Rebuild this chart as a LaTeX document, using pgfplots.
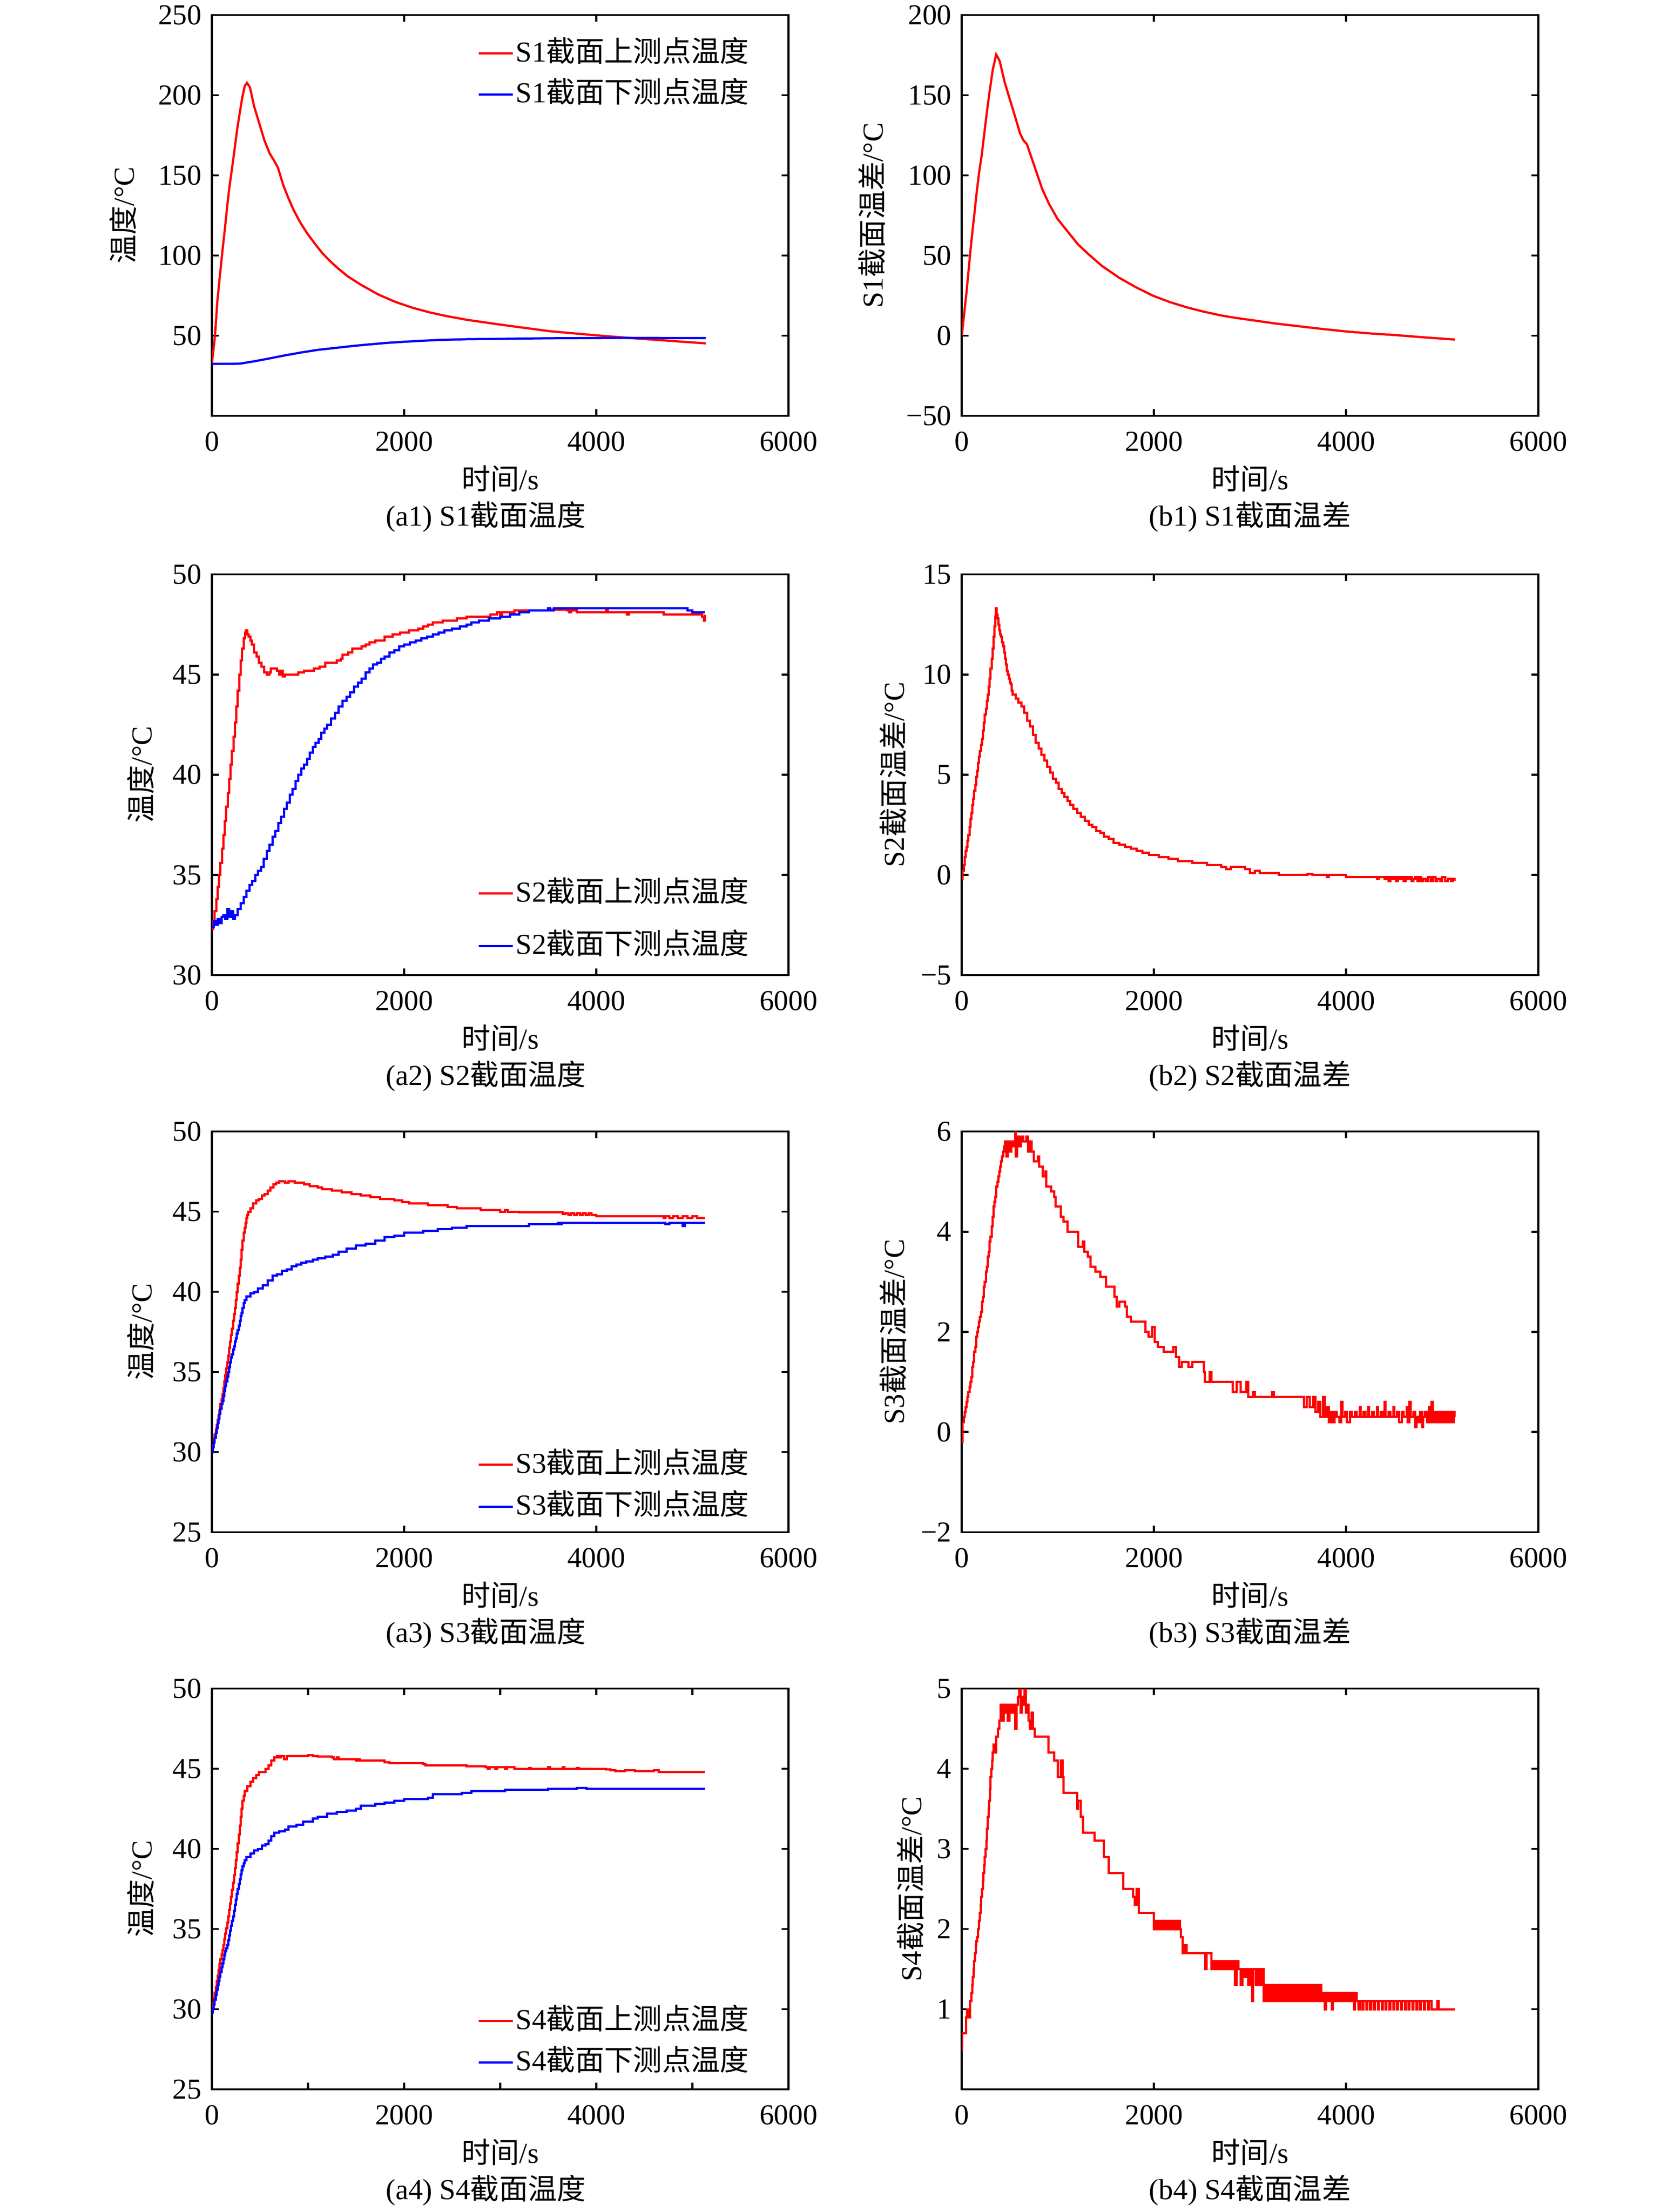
\documentclass[border=0pt]{standalone}
\usepackage{fontspec}
\setmainfont{Liberation Serif}
\newfontfamily\cj{Noto Sans CJK SC}
\usepackage{pgfplots}
\pgfplotsset{compat=1.18}
\definecolor{myred}{RGB}{255,0,0}
\definecolor{myblue}{RGB}{0,0,255}
\pgfplotsset{
  base/.style={
    scale only axis, width=195.3pt, height=135.75pt, anchor=north west,
    xmin=0, xmax=6000, xtick={0,2000,4000,6000}, xticklabels={0,2000,4000,6000},
    tick align=inside, major tick length=2.3pt, minor tick length=2.3pt,
    axis line style={line width=0.7pt}, tick style={line width=0.7pt, black},
    xticklabel style={yshift=-1.9pt},
    xlabel={{\cj 时间}/s},
    xlabel style={at={(axis description cs:0.5,-0.1569)}, anchor=center},
    legend cell align=left,
    legend image code/.code={\draw[##1] (0pt,0pt) -- (11.6pt,0pt);},
    every axis plot/.append style={line width=0.75pt},
  },
  ylab/.style={ylabel style={at={(axis description cs:#1,0.5)}, anchor=center}},
  leg/.style n args={3}{legend style={draw=none, fill=none, at={(axis description cs:1,#1)}, anchor=#2, xshift=-12.6pt, yshift=#3, inner sep=0pt, nodes={inner sep=0.6pt, text height=7.5pt, text depth=2pt}}},
}
\begin{document}
\fontsize{9.8pt}{11.8pt}\selectfont
\begin{tikzpicture}
\useasboundingbox (0,0) rectangle (567pt,-749.25pt);
% ---------------- a1
\begin{axis}[base, name=a1, at={(71.76pt,-5.1pt)}, ymin=0, ymax=250,
  ytick={50,100,150,200,250}, yticklabels={50,100,150,200,250},
  ylabel={{\cj 温度}/°C}, ylab=-0.1546, leg={1}{north east}{-7.5pt},
  legend style={row sep=3.1pt}]
\addplot[myred] coordinates {(0,32.4) (32,49.7) (58,72) (85,88.2) (112,104) (138,118) (160,131) (183,143) (209,154) (236,166) (263,178.5) (289,188.5) (316,198.4) (342,205.7) (365,207.7) (396,205) (440,193) (493,182.5) (547,171.8) (600,163.9) (653,158.6) (689,154.6) (742,144) (795,136) (848,128.7) (919,120.7) (990,114) (1079,106.8) (1150,101.5) (1230,96.5) (1309,92.2) (1416,86.9) (1558,81.5) (1735,75.6) (1913,71.0) (2090,67.4) (2268,64.5) (2445,62.2) (2654,59.9) (2965,57.2) (3250,54.9) (3515,52.8) (4000,50.2) (4365,48.5) (4715,47) (5140,45.2)};
\addlegendentry{S1{\cj 截面上测点温度}}
\addplot[myblue] coordinates {(0,32.4) (150,32.4) (298,32.6) (440,34.0) (582,35.6) (760,37.7) (937,39.6) (1110,41.2) (1292,42.4) (1470,43.6) (1647,44.6) (1820,45.5) (2002,46.2) (2180,46.8) (2356,47.3) (2654,47.8) (2965,48.0) (3515,48.4) (4215,48.6) (5140,48.5)};
\addlegendentry{S1{\cj 截面下测点温度}}
\end{axis}
\node at ([xshift=-4.8pt,yshift=-34.2pt]a1.south) {(a1) S1{\cj 截面温度}};
% ---------------- b1
\begin{axis}[base, name=b1, at={(325.76pt,-5.1pt)}, ymin=-50, ymax=200,
  ytick={-50,0,50,100,150,200}, yticklabels={−50,0,50,100,150,200},
  ylabel={S1{\cj 截面温差}/°C}, ylab=-0.1562]
\addplot[myred] coordinates {(0,0) (21,11.6) (48,26.2) (75,43.5) (101,59.5) (128,74.2) (154,88.8) (181,102.1) (208,112.8) (234,126) (261,139.3) (287,151.3) (323,166) (358,175.4) (394,171.4) (447,158) (500,147.4) (554,136.8) (607,126.1) (640,122) (678,119.4) (731,110.1) (784,100.8) (837,91.5) (908,82.2) (997,72.8) (1104,64.8) (1210,56.9) (1317,50.9) (1459,43.5) (1636,36.2) (1813,30.2) (1991,24.9) (2168,20.9) (2346,17.6) (2523,14.9) (2700,12.6) (2850,11.1) (3005,9.8) (3250,7.7) (3505,5.9) (3750,4.2) (4005,2.6) (4250,1.4) (4505,0.4) (4800,-1.0) (5130,-2.4)};
\end{axis}
\node at ([yshift=-34.2pt]b1.south) {(b1) S1{\cj 截面温差}};
% ---------------- a2
\begin{axis}[base, name=a2, at={(71.76pt,-194.55pt)}, ymin=30, ymax=50,
  ytick={30,35,40,45,50}, yticklabels={30,35,40,45,50},
  ylabel={{\cj 温度}/°C}, ylab=-0.1239, leg={0}{south east}{4.3pt},
  legend style={row sep=7.1pt}]
\addplot[myred, const plot] coordinates {(0,32.3) (15,32.7) (30,33.2) (45,33.8) (60,34.4) (75,35.0) (90,35.6) (105,36.3) (120,37.0) (135,37.7) (150,38.4) (165,39.1) (180,39.8) (195,40.5) (210,41.2) (225,41.9) (240,42.6) (255,43.4) (270,44.2) (285,45.0) (300,45.7) (315,46.3) (330,46.8) (345,47.1) (355,47.2) (370,47.0) (385,46.9) (400,46.7) (415,46.5) (440,46.1) (465,45.9) (490,45.6) (515,45.4) (545,45.1) (570,45.0) (600,45.1) (615,45.3) (680,45.2) (700,45.0) (720,45.2) (740,44.9) (760,45.0) (900,45.1) (960,45.2) (1060,45.3) (1120,45.4) (1180,45.6) (1300,45.7) (1340,45.8) (1360,46.0) (1420,46.1) (1460,46.3) (1560,46.4) (1600,46.5) (1640,46.6) (1700,46.7) (1800,46.9) (1880,47.0) (1960,47.1) (2050,47.2) (2150,47.3) (2200,47.4) (2250,47.5) (2300,47.6) (2400,47.7) (2550,47.8) (2650,47.9) (2900,48.0) (2970,48.1) (3000,48.0) (3020,48.1) (3150,48.2) (3500,48.25) (3700,48.2) (3720,48.1) (3740,48.2) (3800,48.1) (4100,48.2) (4120,48.1) (4300,48.1) (4320,48.0) (4340,48.1) (4700,48.0) (5100,47.9) (5120,47.7) (5130,48.0)};
\addlegendentry{S2{\cj 截面上测点温度}}
\addplot[myblue, const plot] coordinates {(0,32.4) (20,32.7) (40,32.5) (60,32.8) (80,32.6) (100,32.9) (120,33.0) (140,32.8) (160,33.3) (180,32.9) (200,33.2) (220,32.8) (240,33.0) (270,33.3) (300,33.6) (330,33.9) (360,34.2) (390,34.5) (420,34.7) (450,35.0) (480,35.2) (510,35.4) (540,35.8) (570,36.2) (600,36.5) (630,36.9) (660,37.2) (690,37.6) (720,37.9) (750,38.3) (780,38.6) (810,39.0) (840,39.3) (870,39.7) (900,40.0) (930,40.3) (960,40.5) (990,40.8) (1020,41.1) (1050,41.4) (1080,41.6) (1110,41.8) (1140,42.1) (1170,42.3) (1200,42.5) (1240,42.8) (1280,43.1) (1320,43.4) (1360,43.7) (1400,43.9) (1440,44.1) (1480,44.4) (1520,44.6) (1560,44.8) (1600,45.1) (1640,45.3) (1680,45.5) (1720,45.6) (1760,45.8) (1800,45.9) (1850,46.1) (1900,46.2) (1950,46.4) (2000,46.5) (2060,46.6) (2120,46.7) (2180,46.8) (2240,46.9) (2300,47.0) (2360,47.1) (2420,47.2) (2500,47.3) (2580,47.4) (2650,47.5) (2700,47.6) (2780,47.7) (2880,47.8) (3000,47.9) (3100,48.0) (3200,48.1) (3300,48.2) (3500,48.3) (3520,48.2) (3560,48.3) (4900,48.3) (4950,48.2) (5000,48.1) (5130,48.1)};
\addlegendentry{S2{\cj 截面下测点温度}}
\end{axis}
\node at ([xshift=-4.8pt,yshift=-34.2pt]a2.south) {(a2) S2{\cj 截面温度}};
% ---------------- b2
\begin{axis}[base, name=b2, at={(325.76pt,-194.55pt)}, ymin=-5, ymax=15,
  ytick={-5,0,5,10,15}, yticklabels={−5,0,5,10,15},
  ylabel={S2{\cj 截面温差}/°C}, ylab=-0.1193]
\addplot[myred, const plot] coordinates {(0,-0.2) (10,0.2) (20,0.5) (30,0.9) (40,1.2) (50,1.4) (60,1.7) (70,2.0) (80,2.4) (90,2.8) (100,3.1) (110,3.5) (120,3.8) (130,4.2) (140,4.5) (150,4.9) (160,5.2) (170,5.6) (180,5.9) (190,6.2) (200,6.5) (210,6.8) (220,7.2) (230,7.6) (240,8.0) (250,8.3) (260,8.7) (270,9.0) (280,9.4) (290,9.8) (300,10.3) (310,10.8) (320,11.3) (330,11.9) (340,12.4) (348,12.9) (355,13.3) (362,13.0) (370,12.8) (380,12.5) (390,12.2) (400,12.0) (410,11.9) (420,11.6) (430,11.4) (440,11.1) (450,10.8) (460,10.5) (470,10.2) (480,10.0) (490,9.8) (500,9.6) (510,9.5) (520,9.2) (530,9.0) (560,8.8) (590,8.6) (620,8.4) (650,8.1) (680,7.7) (710,7.4) (740,7.0) (770,6.6) (800,6.3) (830,6.0) (860,5.7) (890,5.4) (920,5.1) (950,4.8) (980,4.6) (1010,4.3) (1040,4.1) (1070,3.9) (1100,3.7) (1130,3.5) (1160,3.3) (1200,3.1) (1240,2.9) (1280,2.7) (1320,2.5) (1360,2.4) (1400,2.2) (1440,2.1) (1480,1.9) (1530,1.8) (1580,1.6) (1640,1.5) (1700,1.4) (1760,1.3) (1820,1.2) (1880,1.1) (1950,1.0) (2050,0.9) (2150,0.8) (2250,0.7) (2400,0.6) (2550,0.5) (2700,0.4) (2750,0.3) (2800,0.4) (2950,0.3) (3000,0.1) (3050,0.2) (3100,0.1) (3300,0.0) (3600,0.05) (3650,0.0) (3800,-0.1) (3820,0.0) (4000,-0.1) (4320,-0.2) (4340,-0.1) (4400,-0.2) (4420,-0.1) (4440,-0.3) (4460,-0.1) (4480,-0.2) (4500,-0.1) (4520,-0.3) (4540,-0.1) (4560,-0.2) (4580,-0.1) (4600,-0.3) (4620,-0.1) (4640,-0.2) (4660,-0.1) (4680,-0.3) (4700,-0.2) (4720,-0.1) (4740,-0.3) (4760,-0.1) (4780,-0.3) (4800,-0.2) (4830,-0.3) (4850,-0.1) (4880,-0.3) (4900,-0.1) (4930,-0.3) (4950,-0.2) (4980,-0.3) (5000,-0.1) (5030,-0.3) (5060,-0.2) (5090,-0.3) (5110,-0.2) (5130,-0.3)};
\end{axis}
\node at ([yshift=-34.2pt]b2.south) {(b2) S2{\cj 截面温差}};
% ---------------- a3
\begin{axis}[base, name=a3, at={(71.76pt,-383.25pt)}, ymin=25, ymax=50,
  ytick={25,30,35,40,45,50}, yticklabels={25,30,35,40,45,50},
  ylabel={{\cj 温度}/°C}, ylab=-0.1239, leg={0}{south east}{3.1pt},
  legend style={row sep=3.5pt}]
\addplot[myred, const plot] coordinates {(0,30.0) (10,30.4) (20,30.8) (30,31.1) (40,31.4) (50,31.7) (60,32.0) (70,32.3) (80,32.6) (90,33.0) (100,33.3) (110,33.6) (120,34.0) (130,34.4) (140,34.8) (150,35.2) (160,35.6) (170,36.0) (180,36.5) (190,36.9) (200,37.3) (210,37.7) (220,38.2) (230,38.6) (240,39.0) (250,39.5) (260,40.0) (270,40.5) (280,41.0) (290,41.5) (300,42.0) (310,42.6) (320,43.2) (330,43.7) (340,44.0) (350,44.3) (360,44.6) (370,44.8) (380,45.0) (400,45.2) (430,45.5) (460,45.7) (490,45.8) (520,46.0) (550,46.1) (580,46.3) (610,46.5) (640,46.7) (670,46.8) (700,46.9) (760,46.8) (800,46.9) (860,46.8) (960,46.7) (1020,46.6) (1100,46.5) (1150,46.4) (1250,46.3) (1350,46.2) (1450,46.1) (1550,46.0) (1650,45.9) (1750,45.8) (1900,45.7) (1980,45.6) (2050,45.5) (2250,45.4) (2450,45.3) (2550,45.2) (2800,45.1) (3000,45.0) (3050,45.1) (3080,45.0) (3200,44.95) (3650,44.85) (3680,44.9) (3710,44.8) (3740,44.9) (3770,44.8) (3800,44.9) (3830,44.8) (3860,44.9) (3890,44.8) (3920,44.9) (3950,44.8) (3980,44.8) (4000,44.7) (4700,44.6) (4720,44.7) (4760,44.6) (4800,44.7) (4850,44.6) (4900,44.7) (4950,44.6) (5000,44.7) (5050,44.6) (5130,44.6)};
\addlegendentry{S3{\cj 截面上测点温度}}
\addplot[myblue, const plot] coordinates {(0,30.0) (10,30.3) (20,30.6) (30,30.9) (40,31.2) (50,31.5) (60,31.8) (70,32.1) (80,32.4) (90,32.7) (100,33.0) (110,33.2) (120,33.5) (130,33.8) (140,34.1) (150,34.4) (160,34.7) (170,35.0) (180,35.3) (190,35.6) (200,35.9) (210,36.1) (220,36.4) (230,36.6) (240,36.9) (250,37.1) (260,37.4) (270,37.6) (280,37.9) (290,38.2) (300,38.5) (310,38.7) (320,39.0) (330,39.3) (340,39.5) (360,39.7) (400,39.9) (440,40.0) (480,40.2) (530,40.4) (580,40.7) (630,41.0) (680,41.1) (730,41.3) (780,41.4) (830,41.6) (880,41.7) (930,41.8) (980,41.9) (1050,42.0) (1100,42.1) (1180,42.2) (1260,42.3) (1320,42.5) (1400,42.7) (1500,42.9) (1600,43.0) (1700,43.2) (1800,43.4) (1900,43.5) (2000,43.7) (2200,43.8) (2350,43.9) (2500,44.0) (2650,44.1) (3300,44.2) (3600,44.3) (3620,44.2) (3640,44.3) (4700,44.3) (4720,44.2) (4760,44.3) (4880,44.3) (4900,44.1) (4920,44.3) (5130,44.3)};
\addlegendentry{S3{\cj 截面下测点温度}}
\end{axis}
\node at ([xshift=-4.8pt,yshift=-34.2pt]a3.south) {(a3) S3{\cj 截面温度}};
% ---------------- b3
\begin{axis}[base, name=b3, at={(325.76pt,-383.25pt)}, ymin=-2, ymax=6,
  ytick={-2,0,2,4,6}, yticklabels={−2,0,2,4,6},
  ylabel={S3{\cj 截面温差}/°C}, ylab=-0.1193]
\addplot[myred, const plot] coordinates {(0,-0.2) (10,0.2) (20,0.3) (30,0.4) (40,0.5) (50,0.6) (60,0.7) (70,0.8) (80,0.9) (90,1.0) (100,1.1) (110,1.3) (120,1.4) (130,1.6) (140,1.7) (150,1.9) (160,2.0) (170,2.1) (180,2.2) (190,2.3) (200,2.4) (210,2.6) (220,2.7) (230,2.9) (240,3.0) (250,3.2) (260,3.3) (270,3.5) (280,3.6) (290,3.8) (300,3.9) (310,4.1) (320,4.3) (330,4.5) (340,4.6) (350,4.7) (360,4.9) (370,5.0) (380,5.1) (390,5.2) (400,5.3) (410,5.4) (420,5.5) (430,5.6) (440,5.7) (450,5.8) (465,5.5) (480,5.8) (500,5.6) (515,5.8) (535,5.7) (555,6.0) (562,5.5) (575,5.9) (600,5.7) (615,5.9) (640,5.8) (670,5.9) (690,5.6) (705,5.8) (725,5.6) (750,5.4) (790,5.5) (805,5.3) (840,5.1) (870,5.2) (880,4.9) (930,4.8) (960,4.7) (975,4.5) (1010,4.5) (1030,4.3) (1060,4.2) (1100,4.0) (1180,4.0) (1210,3.7) (1260,3.8) (1275,3.6) (1310,3.5) (1340,3.3) (1390,3.2) (1440,3.1) (1500,2.9) (1590,2.7) (1610,2.5) (1640,2.6) (1700,2.5) (1720,2.3) (1760,2.2) (1900,2.2) (1910,2.0) (1945,1.9) (1980,2.1) (2010,1.8) (2040,1.7) (2100,1.6) (2200,1.7) (2230,1.5) (2260,1.3) (2290,1.4) (2360,1.3) (2400,1.4) (2520,1.2) (2530,1.0) (2580,1.2) (2600,1.0) (2800,1.0) (2820,0.8) (2860,1.0) (2900,0.8) (2960,1.0) (2980,0.7) (3030,0.8) (3050,0.7) (3230,0.8) (3250,0.7) (3550,0.7) (3560,0.5) (3590,0.7) (3620,0.5) (3660,0.7) (3680,0.4) (3710,0.6) (3730,0.3) (3760,0.7) (3780,0.3) (3800,0.5) (3820,0.2) (3840,0.4) (3860,0.2) (3880,0.4) (3900,0.3) (3930,0.2) (3950,0.6) (3960,0.3) (3990,0.4) (4010,0.2) (4040,0.4) (4060,0.3) (4090,0.4) (4110,0.3) (4140,0.5) (4150,0.3) (4180,0.4) (4200,0.3) (4230,0.5) (4240,0.3) (4270,0.4) (4290,0.3) (4320,0.5) (4330,0.3) (4360,0.4) (4380,0.3) (4400,0.6) (4410,0.3) (4440,0.4) (4460,0.3) (4490,0.5) (4500,0.3) (4530,0.4) (4550,0.2) (4580,0.4) (4600,0.3) (4630,0.5) (4640,0.2) (4660,0.6) (4670,0.3) (4700,0.4) (4720,0.1) (4730,0.3) (4750,0.2) (4770,0.4) (4790,0.1) (4800,0.3) (4820,0.4) (4840,0.2) (4860,0.5) (4870,0.2) (4890,0.6) (4900,0.2) (4920,0.4) (4940,0.2) (4960,0.4) (4980,0.2) (5000,0.4) (5020,0.2) (5040,0.4) (5060,0.2) (5080,0.4) (5100,0.2) (5120,0.4) (5130,0.3)};
\end{axis}
\node at ([yshift=-34.2pt]b3.south) {(b3) S3{\cj 截面温差}};
% ---------------- a4
\begin{axis}[base, name=a4, at={(71.76pt,-571.95pt)}, ymin=25, ymax=50,
  ytick={25,30,35,40,45,50}, yticklabels={25,30,35,40,45,50},
  minor xtick={1000,3000,5000},
  ylabel={{\cj 温度}/°C}, ylab=-0.1239, leg={0}{south east}{3.6pt},
  legend style={row sep=3.3pt}]
\addplot[myred, const plot] coordinates {(0,30.0) (10,30.35) (20,30.7) (30,31.05) (40,31.4) (50,31.75) (60,32.1) (70,32.45) (80,32.8) (90,33.1) (100,33.4) (110,33.7) (120,34.0) (130,34.35) (140,34.7) (150,35.05) (160,35.4) (170,35.8) (180,36.2) (190,36.6) (200,37.0) (210,37.45) (220,37.9) (230,38.35) (240,38.8) (250,39.3) (260,39.8) (270,40.35) (280,40.9) (290,41.45) (300,42.0) (310,42.5) (320,43.0) (330,43.3) (340,43.6) (370,43.9) (400,44.2) (430,44.4) (460,44.6) (490,44.8) (560,45.0) (590,45.2) (620,45.5) (650,45.7) (680,45.8) (700,45.7) (720,45.8) (750,45.6) (780,45.8) (1000,45.85) (1050,45.8) (1100,45.75) (1250,45.7) (1270,45.6) (1300,45.7) (1320,45.6) (1450,45.6) (1500,45.5) (1520,45.6) (1540,45.5) (1800,45.4) (1850,45.35) (2200,45.3) (2220,45.2) (2350,45.2) (2650,45.15) (2850,45.1) (2870,45.0) (2890,45.1) (2950,45.0) (2970,45.1) (3050,45.0) (3070,45.1) (3150,45.0) (3300,45.05) (3320,45.0) (3500,45.1) (3520,45.0) (3650,45.1) (3670,45.0) (3800,45.05) (3820,45.0) (4000,45.0) (4100,44.95) (4150,44.9) (4200,44.85) (4300,44.9) (4400,44.85) (4600,44.9) (4650,44.8) (5130,44.8)};
\addlegendentry{S4{\cj 截面上测点温度}}
\addplot[myblue, const plot] coordinates {(0,29.8) (10,30.05) (20,30.3) (30,30.6) (40,30.9) (50,31.2) (60,31.5) (70,31.75) (80,32.0) (90,32.3) (100,32.6) (110,32.85) (120,33.1) (130,33.35) (140,33.6) (150,33.8) (160,34.0) (170,34.3) (180,34.6) (190,34.9) (200,35.2) (210,35.5) (220,35.8) (230,36.15) (240,36.5) (250,36.85) (260,37.2) (270,37.5) (280,37.8) (290,38.1) (300,38.4) (310,38.65) (320,38.9) (330,39.1) (340,39.3) (360,39.5) (400,39.7) (440,39.9) (480,40.0) (520,40.2) (560,40.3) (590,40.5) (620,40.8) (650,41.0) (700,41.1) (760,41.2) (800,41.4) (880,41.5) (950,41.7) (1050,41.9) (1100,42.0) (1200,42.2) (1300,42.3) (1400,42.4) (1500,42.5) (1550,42.7) (1700,42.8) (1800,42.9) (1900,43.0) (2000,43.1) (2250,43.2) (2300,43.4) (2600,43.5) (2700,43.6) (3050,43.7) (3500,43.75) (3800,43.8) (3900,43.75) (5130,43.75)};
\addlegendentry{S4{\cj 截面下测点温度}}
\end{axis}
\node at ([xshift=-4.8pt,yshift=-34.2pt]a4.south) {(a4) S4{\cj 截面温度}};
% ---------------- b4
\begin{axis}[base, name=b4, at={(325.76pt,-571.95pt)}, ymin=0, ymax=5,
  ytick={1,2,3,4,5}, yticklabels={1,2,3,4,5},
  ylabel={S4{\cj 截面温差}/°C}, ylab=-0.0891]
\addplot[myred, const plot] coordinates {(0,0.5) (5,0.7) (40,0.7) (45,0.9) (55,1.0) (70,0.9) (85,1.1) (100,1.2) (108,1.3) (115,1.4) (123,1.5) (130,1.6) (138,1.7) (145,1.8) (152,1.85) (160,1.9) (170,2.0) (180,2.1) (188,2.2) (195,2.3) (203,2.4) (210,2.5) (218,2.6) (225,2.7) (233,2.8) (240,2.9) (248,3.0) (255,3.1) (263,3.25) (270,3.4) (278,3.5) (285,3.6) (293,3.75) (300,3.9) (308,4.0) (315,4.1) (323,4.2) (330,4.3) (345,4.2) (360,4.4) (375,4.5) (390,4.6) (405,4.8) (420,4.6) (435,4.8) (450,4.7) (465,4.8) (480,4.6) (495,4.8) (515,4.7) (535,4.8) (555,4.5) (570,4.8) (585,4.9) (600,5.0) (612,4.7) (625,4.9) (640,4.8) (655,5.0) (668,4.7) (680,4.8) (695,4.6) (710,4.5) (725,4.7) (740,4.5) (760,4.4) (900,4.2) (960,4.1) (1000,3.9) (1030,4.1) (1050,3.9) (1060,3.7) (1200,3.5) (1210,3.6) (1240,3.4) (1260,3.2) (1380,3.1) (1480,2.9) (1530,2.7) (1680,2.5) (1780,2.4) (1800,2.3) (1820,2.5) (1840,2.2) (2000,2.0) (2015,2.1) (2030,2.0) (2045,2.1) (2060,2.0) (2075,2.1) (2090,2.0) (2105,2.1) (2120,2.0) (2135,2.1) (2150,2.0) (2165,2.1) (2180,2.0) (2195,2.1) (2210,2.0) (2225,2.1) (2240,2.0) (2255,2.1) (2270,2.0) (2280,1.9) (2300,1.7) (2320,1.8) (2340,1.7) (2530,1.7) (2535,1.5) (2545,1.7) (2600,1.5) (2615,1.6) (2630,1.5) (2645,1.6) (2660,1.5) (2675,1.6) (2690,1.5) (2705,1.6) (2720,1.5) (2735,1.6) (2750,1.5) (2765,1.6) (2780,1.5) (2795,1.6) (2810,1.5) (2825,1.6) (2840,1.3) (2860,1.6) (2880,1.5) (2900,1.3) (2920,1.5) (2940,1.4) (2960,1.5) (2980,1.3) (3000,1.5) (3020,1.1) (3030,1.5) (3060,1.3) (3080,1.5) (3100,1.3) (3120,1.5) (3140,1.1) (3155,1.3) (3170,1.1) (3185,1.3) (3200,1.1) (3215,1.3) (3230,1.1) (3245,1.3) (3260,1.1) (3275,1.3) (3290,1.1) (3305,1.3) (3320,1.1) (3335,1.3) (3350,1.1) (3365,1.3) (3380,1.1) (3395,1.3) (3410,1.1) (3425,1.3) (3440,1.1) (3455,1.3) (3470,1.1) (3485,1.3) (3500,1.1) (3515,1.3) (3530,1.1) (3545,1.3) (3560,1.1) (3575,1.3) (3590,1.1) (3605,1.3) (3620,1.1) (3635,1.3) (3650,1.1) (3665,1.3) (3680,1.1) (3695,1.3) (3710,1.1) (3725,1.3) (3740,1.1) (3760,1.2) (3780,1.0) (3790,1.2) (3810,1.1) (3830,1.2) (3850,1.0) (3860,1.2) (3880,1.1) (3900,1.2) (3920,1.1) (3940,1.2) (3960,1.1) (3980,1.2) (4000,1.1) (4020,1.2) (4040,1.1) (4060,1.2) (4080,1.0) (4090,1.2) (4110,1.1) (4130,1.0) (4140,1.1) (4170,1.0) (4180,1.1) (4210,1.0) (4220,1.1) (4250,1.0) (4260,1.1) (4290,1.0) (4300,1.1) (4330,1.0) (4340,1.1) (4370,1.0) (4380,1.1) (4410,1.0) (4420,1.1) (4450,1.0) (4460,1.1) (4490,1.0) (4500,1.1) (4530,1.0) (4540,1.1) (4570,1.0) (4580,1.1) (4610,1.0) (4620,1.1) (4650,1.0) (4660,1.1) (4690,1.0) (4700,1.1) (4730,1.0) (4740,1.1) (4770,1.0) (4780,1.1) (4810,1.0) (4820,1.1) (4850,1.0) (4860,1.1) (4890,1.0) (4950,1.1) (4960,1.0) (5130,1.0)};
\end{axis}
\node at ([yshift=-34.2pt]b4.south) {(b4) S4{\cj 截面温差}};
\end{tikzpicture}
\end{document}
